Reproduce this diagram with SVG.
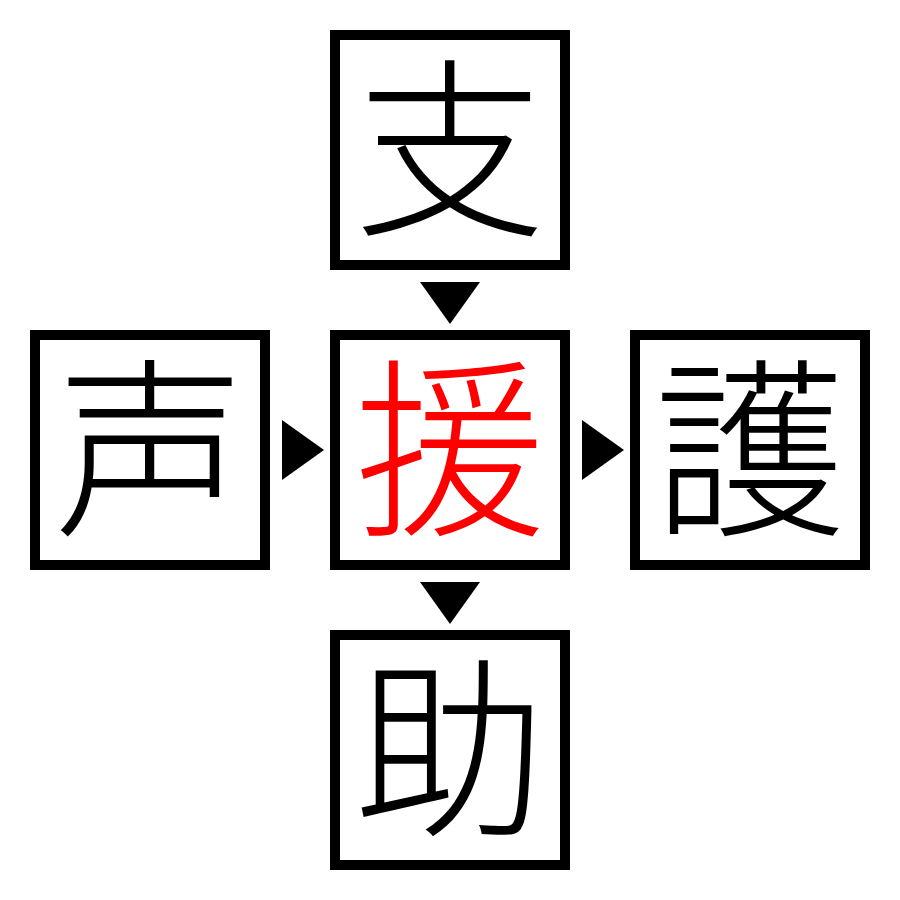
<svg xmlns="http://www.w3.org/2000/svg" width="900" height="900" viewBox="0 0 900 900">
<style>
.box{fill:#fff;stroke:#000;stroke-width:10}
.k{font-family:"Noto Sans CJK JP","Noto Sans CJK SC",sans-serif;font-size:192px;font-weight:300;text-anchor:middle;fill:#000}
.hl{fill:#ff0000}
.arr{fill:#000}
</style>
<rect width="900" height="900" fill="#fff"/>
<g id="connectors">
<polygon class="arr" points="420,282 480,282 450,324"/>
<polygon class="arr" points="420,582 480,582 450,624"/>
<polygon class="arr" points="282,420 282,480 324,450"/>
<polygon class="arr" points="582,420 582,480 624,450"/>
</g>
<g id="node-top"><rect class="box" x="335" y="35" width="230" height="230"/><text class="k" x="450" y="221">支</text></g>
<g id="node-left"><rect class="box" x="35" y="335" width="230" height="230"/><text class="k" x="150" y="521">声</text></g>
<g id="node-center"><rect class="box" x="335" y="335" width="230" height="230"/><text class="k hl" x="450" y="521">援</text></g>
<g id="node-right"><rect class="box" x="635" y="335" width="230" height="230"/><text class="k" x="750" y="521">護</text></g>
<g id="node-bottom"><rect class="box" x="335" y="635" width="230" height="230"/><text class="k" x="450" y="821">助</text></g>
</svg>
